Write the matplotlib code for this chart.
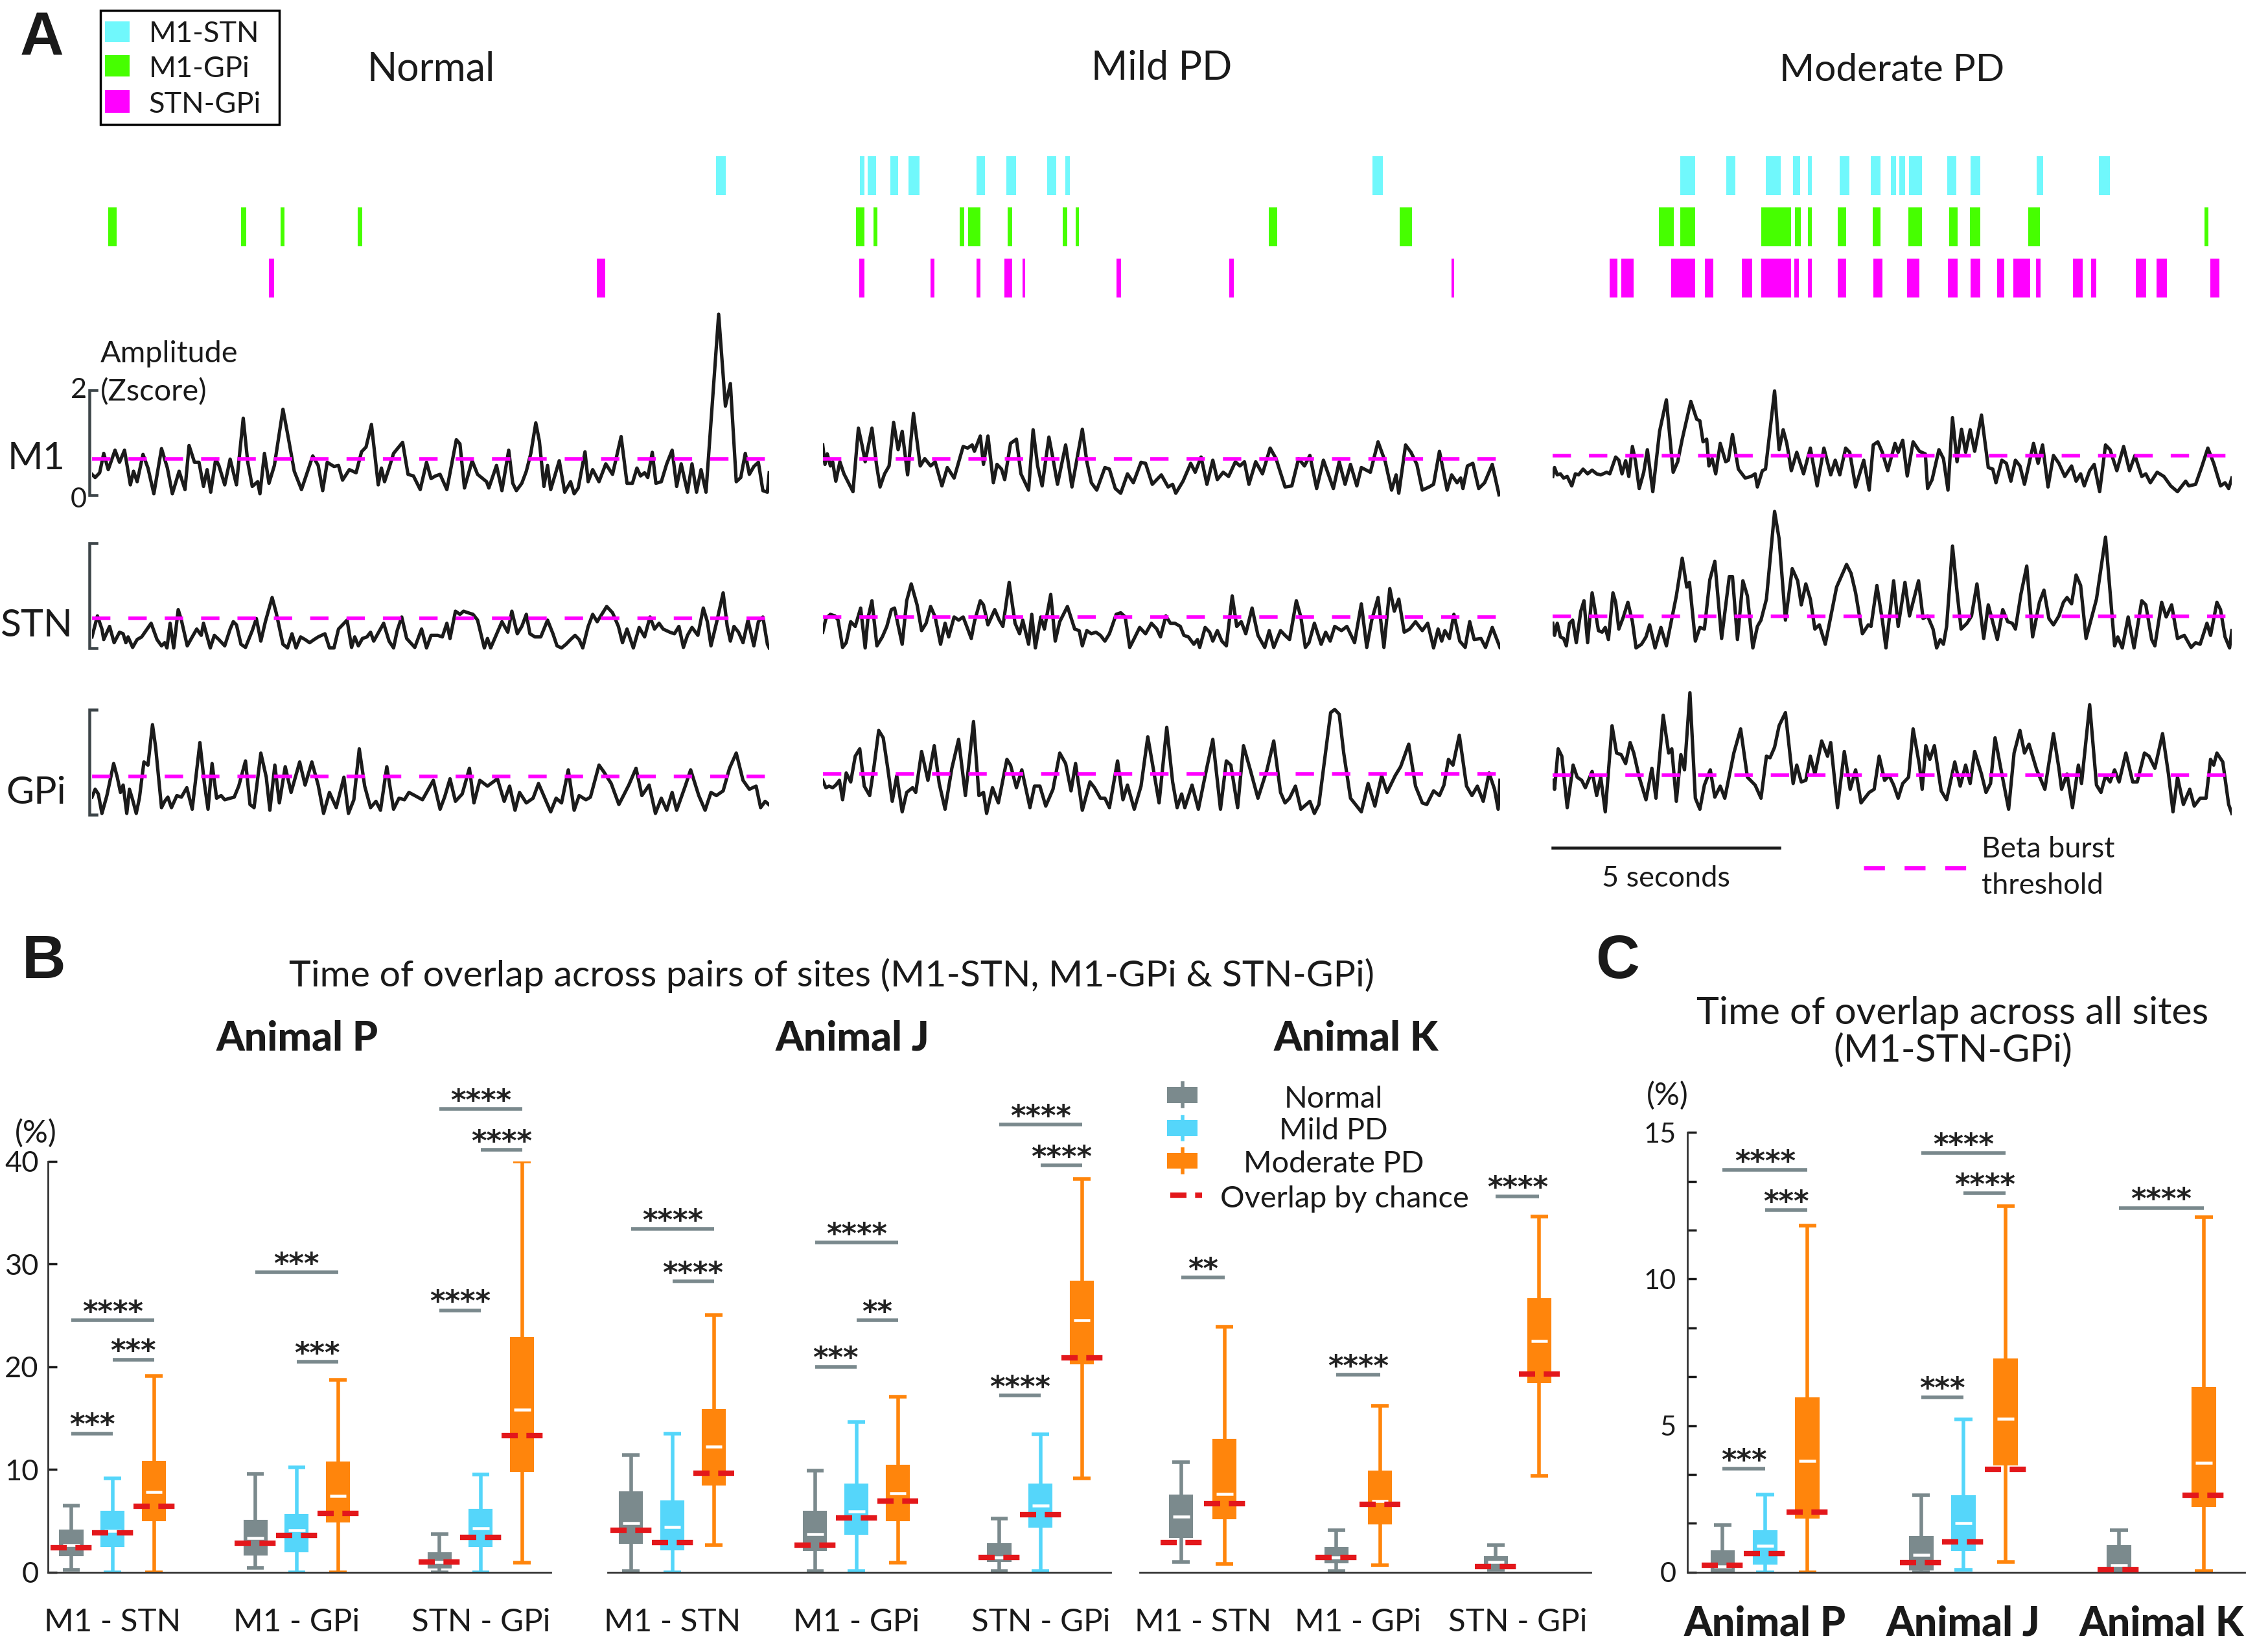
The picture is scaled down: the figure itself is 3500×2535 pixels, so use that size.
import numpy as np
import matplotlib
matplotlib.use('Agg')
import matplotlib.pyplot as plt
from matplotlib.patches import Rectangle

plt.rcParams['font.family'] = ['Lato', 'DejaVu Sans']

# ---------------------------------------------------------------- data
T_WINDOW = 15.0                      # seconds shown for each condition
conditions = ['Normal', 'Mild PD', 'Moderate PD']
site_names = ['M1', 'STN', 'GPi']
pair_names = ['M1-STN', 'M1-GPi', 'STN-GPi']

# overlapping beta bursts, (start, end) in seconds
normal_m1_stn = [(13.82, 14.04)]
normal_m1_gpi = [(0.36, 0.55), (3.30, 3.41), (4.18, 4.26), (5.89, 5.98)]
normal_stn_gpi = [(3.92, 4.04), (11.18, 11.37)]
mild_m1_stn = [(0.82, 0.93), (1.00, 1.18), (1.50, 1.67), (1.90, 2.15), (3.40, 3.59),
               (4.07, 4.28), (4.97, 5.17), (5.37, 5.47), (12.18, 12.40)]
mild_m1_gpi = [(0.74, 0.93), (1.12, 1.21), (3.04, 3.14), (3.22, 3.50), (4.09, 4.20),
               (5.32, 5.42), (5.60, 5.68), (9.88, 10.07), (12.78, 13.05)]
mild_stn_gpi = [(0.81, 0.93), (2.39, 2.48), (3.40, 3.50), (4.02, 4.19), (4.43, 4.49),
                (6.50, 6.61), (9.00, 9.11), (13.93, 13.98)]
moderate_m1_stn = [(2.82, 3.15), (3.84, 4.03), (4.70, 5.03), (5.31, 5.47), (5.64, 5.72),
                   (6.34, 6.55), (7.03, 7.24), (7.47, 7.59), (7.65, 7.79), (7.87, 8.16),
                   (8.72, 8.91), (9.23, 9.45), (10.69, 10.83), (12.07, 12.30)]
moderate_m1_gpi = [(2.34, 2.68), (2.81, 3.15), (4.61, 5.26), (5.35, 5.48), (5.63, 5.72),
                   (6.30, 6.48), (7.07, 7.24), (7.85, 8.16), (8.75, 8.94), (9.22, 9.45),
                   (10.51, 10.76), (14.39, 14.48)]
moderate_stn_gpi = [(1.25, 1.43), (1.52, 1.79), (2.62, 3.15), (3.36, 3.55), (4.17, 4.41),
                    (4.61, 5.26), (5.34, 5.43), (5.63, 5.72), (6.30, 6.48), (7.08, 7.28),
                    (7.83, 8.10), (8.73, 8.94), (9.23, 9.45), (9.82, 9.97), (10.17, 10.54),
                    (10.68, 10.77), (11.49, 11.71), (11.89, 12.00), (12.88, 13.11),
                    (13.34, 13.57), (14.52, 14.73)]

# beta amplitude envelopes (time s, z-score) and burst thresholds (M1, STN, GPi)
normal_m1 = [0.00,0.40, 0.07,0.34, 0.17,0.43, 0.26,0.80, 0.36,0.49, 0.51,0.86, 0.61,0.63, 0.72,0.86, 0.85,0.20, 0.92,0.46, 1.00,0.26, 1.13,0.78, 1.24,0.52, 1.37,0.03, 1.54,0.89, 1.67,0.52, 1.78,0.03, 1.93,0.46, 2.06,0.11, 2.15,0.95, 2.27,0.63, 2.37,0.63, 2.47,0.17, 2.55,0.49, 2.63,0.06, 2.74,0.69, 2.81,0.57, 2.94,0.20, 3.06,0.69, 3.20,0.20, 3.35,1.47, 3.45,0.63, 3.55,0.17, 3.67,0.26, 3.72,0.03, 3.82,0.80, 3.92,0.23, 4.04,0.57, 4.23,1.64, 4.35,1.09, 4.48,0.46, 4.64,0.11, 4.89,0.75, 5.01,0.57, 5.11,0.09, 5.21,0.63, 5.36,0.55, 5.46,0.57, 5.55,0.29, 5.70,0.49, 5.85,0.43, 5.97,0.83, 6.07,0.92, 6.19,1.35, 6.34,0.20, 6.41,0.52, 6.48,0.26, 6.58,0.52, 6.68,0.80, 6.88,1.01, 7.00,0.40, 7.12,0.37, 7.27,0.11, 7.41,0.63, 7.51,0.32, 7.61,0.37, 7.71,0.40, 7.86,0.11, 8.07,1.06, 8.15,0.98, 8.25,0.14, 8.42,0.66, 8.54,0.40, 8.74,0.26, 8.79,0.14, 8.96,0.57, 9.08,0.09, 9.23,0.86, 9.32,0.23, 9.40,0.09, 9.52,0.23, 9.62,0.46, 9.72,0.80, 9.83,1.38, 9.91,1.03, 10.01,0.17, 10.09,0.57, 10.16,0.11, 10.35,0.66, 10.47,0.06, 10.60,0.26, 10.68,0.03, 10.77,0.14, 10.92,0.83, 10.99,0.26, 11.09,0.49, 11.23,0.26, 11.38,0.60, 11.53,0.40, 11.72,1.12, 11.85,0.23, 11.97,0.23, 12.07,0.52, 12.15,0.37, 12.24,0.43, 12.31,0.34, 12.41,0.82, 12.49,0.23, 12.61,0.26, 12.73,0.60, 12.85,0.86, 12.95,0.17, 13.05,0.60, 13.19,0.06, 13.29,0.60, 13.39,0.06, 13.49,0.49, 13.60,0.06, 13.88,3.45, 14.03,1.70, 14.14,2.13, 14.27,0.26, 14.37,0.34, 14.47,0.80, 14.56,0.40, 14.66,0.55, 14.76,0.63, 14.86,0.09, 14.96,0.06, 15.00,0.43]
normal_stn = [0.00,0.21, 0.12,0.61, 0.22,0.36, 0.26,0.16, 0.39,0.41, 0.49,0.10, 0.61,0.30, 0.69,0.27, 0.75,0.10, 0.80,0.21, 0.90,0.01, 1.00,0.16, 1.10,0.21, 1.31,0.47, 1.44,0.16, 1.54,0.04, 1.61,0.10, 1.66,0.00, 1.73,0.47, 1.81,0.00, 1.91,0.73, 1.98,0.53, 2.11,0.04, 2.22,0.21, 2.32,0.36, 2.42,0.24, 2.47,0.47, 2.62,0.00, 2.71,0.24, 2.81,0.16, 2.94,0.04, 3.06,0.36, 3.13,0.50, 3.20,0.44, 3.30,0.07, 3.40,0.01, 3.55,0.33, 3.64,0.56, 3.74,0.13, 3.84,0.50, 3.99,0.96, 4.08,0.67, 4.23,0.07, 4.33,0.00, 4.43,0.27, 4.52,0.00, 4.62,0.21, 4.72,0.16, 4.82,0.10, 4.92,0.16, 5.01,0.21, 5.16,0.27, 5.26,0.00, 5.36,0.00, 5.46,0.36, 5.65,0.53, 5.75,0.01, 5.82,0.21, 5.90,0.04, 5.99,0.18, 6.09,0.21, 6.17,0.30, 6.24,0.13, 6.37,0.33, 6.46,0.47, 6.58,0.13, 6.68,0.00, 6.76,0.33, 6.86,0.59, 6.97,0.18, 7.15,0.01, 7.30,0.36, 7.41,0.00, 7.51,0.24, 7.66,0.24, 7.76,0.21, 7.86,0.47, 7.93,0.18, 8.05,0.70, 8.15,0.64, 8.23,0.70, 8.33,0.67, 8.44,0.64, 8.54,0.53, 8.69,0.00, 8.76,0.18, 8.83,0.00, 8.98,0.30, 9.08,0.50, 9.21,0.30, 9.30,0.70, 9.42,0.27, 9.52,0.41, 9.62,0.64, 9.70,0.27, 9.81,0.21, 9.94,0.21, 10.09,0.53, 10.21,0.27, 10.30,0.04, 10.40,0.00, 10.50,0.07, 10.60,0.16, 10.70,0.24, 10.79,0.16, 10.87,0.00, 10.99,0.41, 11.09,0.64, 11.19,0.50, 11.40,0.79, 11.53,0.67, 11.66,0.41, 11.75,0.10, 11.85,0.36, 11.99,0.00, 12.12,0.39, 12.24,0.21, 12.36,0.59, 12.46,0.36, 12.56,0.47, 12.65,0.36, 12.80,0.30, 12.90,0.27, 13.00,0.41, 13.10,0.01, 13.19,0.24, 13.29,0.39, 13.42,0.24, 13.54,0.76, 13.63,0.50, 13.71,0.04, 13.83,0.47, 13.98,1.05, 14.07,0.41, 14.14,0.13, 14.22,0.41, 14.32,0.30, 14.42,0.10, 14.53,0.53, 14.66,0.04, 14.76,0.50, 14.86,0.59, 14.96,0.07, 15.00,0.00]
normal_gpi = [0.00,0.34, 0.07,0.49, 0.14,0.40, 0.22,0.03, 0.33,0.37, 0.48,0.98, 0.56,0.72, 0.63,0.43, 0.69,0.57, 0.77,0.03, 0.83,0.49, 0.90,0.29, 0.98,0.03, 1.05,0.32, 1.15,1.01, 1.24,0.95, 1.34,1.72, 1.41,1.29, 1.54,0.14, 1.61,0.26, 1.68,0.34, 1.76,0.14, 1.88,0.37, 1.98,0.34, 2.10,0.52, 2.22,0.11, 2.39,1.38, 2.49,0.60, 2.57,0.11, 2.66,0.98, 2.76,0.32, 2.86,0.37, 2.94,0.29, 3.06,0.32, 3.15,0.34, 3.25,0.55, 3.40,1.03, 3.50,0.20, 3.59,0.14, 3.74,1.18, 3.86,0.72, 3.94,0.09, 4.05,0.95, 4.15,0.23, 4.28,0.92, 4.41,0.43, 4.60,1.01, 4.72,0.57, 4.87,1.01, 5.01,0.57, 5.13,0.03, 5.26,0.43, 5.41,0.14, 5.58,0.72, 5.68,0.03, 5.80,0.29, 5.92,1.26, 6.04,0.55, 6.17,0.14, 6.29,0.26, 6.39,0.09, 6.53,0.92, 6.68,0.11, 6.80,0.32, 6.92,0.29, 7.02,0.43, 7.15,0.37, 7.32,0.29, 7.56,0.66, 7.71,0.11, 7.81,0.34, 7.93,0.69, 8.05,0.26, 8.20,0.40, 8.36,0.89, 8.46,0.23, 8.59,0.66, 8.76,0.55, 8.98,0.69, 9.13,0.26, 9.25,0.55, 9.37,0.09, 9.47,0.43, 9.62,0.23, 9.77,0.32, 9.89,0.60, 10.03,0.32, 10.16,0.06, 10.28,0.32, 10.40,0.23, 10.55,0.86, 10.68,0.09, 10.79,0.37, 10.94,0.29, 11.04,0.34, 11.23,0.95, 11.33,0.83, 11.50,0.60, 11.67,0.20, 11.79,0.40, 11.89,0.57, 12.05,0.89, 12.18,0.37, 12.34,0.57, 12.48,0.03, 12.61,0.32, 12.73,0.09, 12.85,0.43, 12.95,0.09, 13.14,0.55, 13.26,0.86, 13.44,0.37, 13.58,0.09, 13.71,0.43, 13.83,0.37, 13.98,0.46, 14.12,0.89, 14.27,1.18, 14.42,0.66, 14.56,0.49, 14.71,0.55, 14.81,0.14, 14.91,0.26, 14.99,0.20]
mild_m1 = [0.00,0.96, 0.05,0.59, 0.10,0.79, 0.17,0.56, 0.22,0.64, 0.29,0.27, 0.38,0.64, 0.47,0.41, 0.57,0.24, 0.67,0.07, 0.79,1.28, 0.87,0.96, 0.94,0.64, 1.09,1.28, 1.19,0.59, 1.27,0.16, 1.37,0.41, 1.47,0.56, 1.57,1.39, 1.67,0.87, 1.76,1.22, 1.88,0.39, 2.01,1.56, 2.16,0.56, 2.26,0.70, 2.39,0.56, 2.49,0.64, 2.64,0.18, 2.76,0.53, 2.91,0.33, 3.11,0.93, 3.21,0.90, 3.31,0.96, 3.36,0.84, 3.49,1.13, 3.56,0.59, 3.66,1.13, 3.78,0.24, 3.86,0.59, 3.96,0.50, 4.03,0.30, 4.16,0.99, 4.29,1.07, 4.39,0.41, 4.56,0.10, 4.66,1.25, 4.76,0.56, 4.86,0.18, 5.01,1.11, 5.10,0.70, 5.20,0.21, 5.38,0.96, 5.52,0.16, 5.75,1.26, 5.85,0.64, 5.95,0.24, 6.07,0.10, 6.25,0.53, 6.35,0.50, 6.48,0.13, 6.60,0.04, 6.75,0.41, 6.88,0.24, 7.05,0.63, 7.15,0.61, 7.30,0.21, 7.50,0.39, 7.65,0.16, 7.75,0.21, 7.82,0.04, 7.98,0.27, 8.15,0.61, 8.25,0.44, 8.38,0.73, 8.51,0.21, 8.64,0.67, 8.74,0.30, 8.87,0.44, 8.99,0.36, 9.14,0.64, 9.24,0.56, 9.34,0.64, 9.44,0.21, 9.59,0.64, 9.74,0.41, 9.91,0.90, 10.04,0.70, 10.24,0.16, 10.39,0.18, 10.54,0.70, 10.67,0.56, 10.79,0.76, 10.94,0.13, 11.09,0.67, 11.31,0.13, 11.44,0.64, 11.57,0.21, 11.69,0.59, 11.83,0.18, 11.93,0.53, 12.13,0.44, 12.30,1.02, 12.46,0.64, 12.60,0.10, 12.70,0.39, 12.76,0.04, 12.91,0.96, 13.03,0.82, 13.16,0.59, 13.28,0.10, 13.43,0.16, 13.53,0.21, 13.66,0.84, 13.83,0.10, 13.93,0.39, 14.05,0.24, 14.13,0.33, 14.18,0.13, 14.28,0.56, 14.40,0.61, 14.53,0.13, 14.66,0.24, 14.83,0.59, 14.98,0.01]
mild_stn = [0.00,0.30, 0.07,0.56, 0.17,0.64, 0.27,0.61, 0.34,0.53, 0.44,0.01, 0.52,0.10, 0.62,0.50, 0.72,0.41, 0.84,0.76, 0.94,0.00, 1.00,0.56, 1.09,0.90, 1.20,0.04, 1.32,0.21, 1.42,0.41, 1.52,0.73, 1.59,0.76, 1.68,0.39, 1.76,0.07, 1.86,0.90, 1.96,1.22, 2.09,0.82, 2.19,0.33, 2.29,0.47, 2.39,0.79, 2.49,0.59, 2.61,0.07, 2.71,0.47, 2.79,0.21, 2.91,0.59, 3.01,0.53, 3.11,0.59, 3.19,0.41, 3.29,0.18, 3.36,0.50, 3.49,0.90, 3.56,0.82, 3.66,0.44, 3.81,0.73, 3.91,0.53, 3.99,0.41, 4.13,1.25, 4.26,0.47, 4.36,0.27, 4.43,0.53, 4.56,0.07, 4.63,0.64, 4.71,0.00, 4.83,0.59, 4.91,0.36, 5.05,1.02, 5.15,0.13, 5.25,0.50, 5.42,0.79, 5.58,0.36, 5.68,0.33, 5.75,0.04, 5.85,0.33, 5.95,0.27, 6.05,0.30, 6.15,0.24, 6.25,0.13, 6.35,0.27, 6.50,0.64, 6.60,0.67, 6.70,0.59, 6.80,0.01, 6.90,0.18, 7.02,0.39, 7.15,0.27, 7.28,0.47, 7.40,0.36, 7.48,0.21, 7.60,0.61, 7.70,0.47, 7.80,0.47, 7.92,0.41, 8.00,0.24, 8.10,0.21, 8.22,0.07, 8.30,0.16, 8.35,0.01, 8.47,0.39, 8.57,0.30, 8.64,0.13, 8.74,0.33, 8.84,0.13, 8.94,0.04, 9.07,0.99, 9.17,0.41, 9.27,0.50, 9.37,0.27, 9.51,0.76, 9.64,0.24, 9.79,0.01, 9.89,0.33, 9.99,0.01, 10.14,0.33, 10.24,0.24, 10.34,0.16, 10.49,0.90, 10.59,0.59, 10.69,0.01, 10.77,0.10, 10.89,0.47, 11.04,0.07, 11.14,0.30, 11.24,0.13, 11.34,0.41, 11.49,0.33, 11.61,0.41, 11.78,0.10, 11.93,0.84, 12.05,0.01, 12.16,0.53, 12.30,0.96, 12.43,0.01, 12.56,1.13, 12.66,0.70, 12.76,0.93, 12.88,0.30, 13.00,0.36, 13.13,0.50, 13.28,0.33, 13.40,0.47, 13.53,0.00, 13.63,0.36, 13.71,0.13, 13.78,0.33, 13.88,0.18, 13.98,0.64, 14.11,0.13, 14.23,0.01, 14.33,0.50, 14.43,0.16, 14.58,0.18, 14.68,0.01, 14.83,0.39, 15.00,0.01]
mild_gpi = [0.00,0.66, 0.07,0.52, 0.14,0.55, 0.22,0.52, 0.29,0.57, 0.37,0.66, 0.44,0.29, 0.52,0.80, 0.62,0.63, 0.72,1.12, 0.82,1.26, 0.92,0.55, 1.04,0.37, 1.14,0.95, 1.24,1.61, 1.34,1.47, 1.44,0.89, 1.54,0.26, 1.64,0.75, 1.76,0.06, 1.86,0.43, 1.99,0.52, 2.06,0.43, 2.19,1.21, 2.33,0.66, 2.47,1.32, 2.58,0.60, 2.71,0.11, 2.86,0.89, 3.01,1.44, 3.16,0.37, 3.34,1.78, 3.46,0.37, 3.56,0.43, 3.63,0.03, 3.76,0.52, 3.89,0.23, 4.08,1.06, 4.16,0.95, 4.29,0.52, 4.41,0.86, 4.59,0.14, 4.69,0.55, 4.81,0.55, 4.94,0.17, 5.10,0.49, 5.25,1.18, 5.38,0.98, 5.50,0.46, 5.60,0.98, 5.75,0.09, 5.92,0.63, 6.02,0.52, 6.15,0.32, 6.25,0.32, 6.35,0.14, 6.53,1.03, 6.65,0.29, 6.75,0.57, 6.90,0.11, 7.05,0.55, 7.20,1.49, 7.32,0.89, 7.45,0.23, 7.62,1.67, 7.75,0.63, 7.85,0.14, 7.95,0.40, 8.02,0.14, 8.18,0.57, 8.32,0.11, 8.49,0.83, 8.64,1.44, 8.81,0.11, 8.94,1.03, 9.04,0.95, 9.19,0.14, 9.32,1.32, 9.47,0.86, 9.64,0.32, 9.84,0.86, 9.99,1.41, 10.14,0.43, 10.24,0.23, 10.34,0.32, 10.47,0.55, 10.59,0.11, 10.79,0.26, 10.89,0.03, 10.99,0.20, 11.25,1.95, 11.34,2.01, 11.44,1.92, 11.54,1.18, 11.69,0.32, 11.93,0.06, 12.08,0.60, 12.23,0.17, 12.38,0.75, 12.50,0.43, 12.68,0.75, 12.80,0.92, 12.98,1.35, 13.13,0.55, 13.28,0.23, 13.38,0.20, 13.53,0.46, 13.66,0.37, 13.76,0.57, 13.86,1.06, 13.96,0.95, 14.10,1.52, 14.26,0.55, 14.38,0.37, 14.50,0.55, 14.63,0.26, 14.76,0.80, 14.88,0.49, 14.96,0.11, 15.00,0.66]
moderate_m1 = [0.00,0.36, 0.04,0.53, 0.10,0.39, 0.17,0.41, 0.24,0.33, 0.32,0.36, 0.42,0.18, 0.50,0.41, 0.57,0.39, 0.67,0.50, 0.77,0.41, 0.87,0.48, 0.97,0.41, 1.06,0.39, 1.19,0.44, 1.26,0.41, 1.39,0.73, 1.46,0.67, 1.53,0.41, 1.61,0.66, 1.68,0.36, 1.76,0.93, 1.83,0.64, 1.91,0.13, 2.01,0.44, 2.09,0.87, 2.21,0.07, 2.36,1.22, 2.51,1.82, 2.66,0.44, 2.76,0.64, 2.86,1.07, 3.05,1.79, 3.18,1.45, 3.25,1.42, 3.32,1.02, 3.40,1.07, 3.45,0.56, 3.52,0.70, 3.60,0.41, 3.70,0.99, 3.82,0.64, 3.88,0.67, 3.97,1.16, 4.10,0.50, 4.25,0.33, 4.38,0.36, 4.47,0.41, 4.52,0.16, 4.63,0.47, 4.70,0.50, 4.90,1.99, 5.00,0.87, 5.09,1.25, 5.17,0.99, 5.27,0.47, 5.39,0.82, 5.54,0.41, 5.69,0.90, 5.84,0.18, 5.99,0.90, 6.14,0.39, 6.24,0.67, 6.34,0.39, 6.47,0.90, 6.56,0.82, 6.69,0.16, 6.87,0.67, 6.99,0.10, 7.08,0.96, 7.18,1.02, 7.28,0.82, 7.40,0.47, 7.56,0.99, 7.63,0.82, 7.73,1.05, 7.83,0.37, 7.96,1.02, 8.10,0.84, 8.23,0.79, 8.28,0.13, 8.38,0.30, 8.53,0.87, 8.63,0.70, 8.73,0.10, 8.83,1.48, 8.93,0.64, 9.03,1.26, 9.12,0.82, 9.22,1.25, 9.32,0.84, 9.47,1.53, 9.62,0.53, 9.72,0.50, 9.79,0.24, 9.92,0.67, 10.02,0.61, 10.12,0.27, 10.22,0.67, 10.32,0.56, 10.42,0.21, 10.62,0.99, 10.72,0.61, 10.82,0.96, 10.94,0.16, 11.06,0.76, 11.18,0.61, 11.31,0.36, 11.46,0.56, 11.56,0.27, 11.66,0.41, 11.74,0.18, 11.86,0.47, 11.96,0.59, 12.08,0.07, 12.21,0.96, 12.31,0.87, 12.46,0.47, 12.61,0.93, 12.74,0.47, 12.86,0.76, 13.01,0.36, 13.10,0.41, 13.20,0.24, 13.35,0.44, 13.50,0.36, 13.65,0.18, 13.80,0.07, 13.98,0.27, 14.05,0.18, 14.20,0.21, 14.33,0.53, 14.47,0.90, 14.60,0.61, 14.75,0.18, 14.85,0.24, 14.93,0.13, 15.00,0.33]
moderate_stn = [0.00,0.47, 0.04,0.24, 0.10,0.47, 0.17,0.21, 0.24,0.18, 0.30,0.04, 0.37,0.47, 0.44,0.53, 0.52,0.10, 0.62,0.70, 0.69,0.90, 0.77,0.10, 0.87,1.05, 0.95,0.64, 1.01,0.33, 1.09,0.30, 1.16,0.39, 1.23,0.16, 1.33,1.05, 1.39,0.87, 1.46,0.36, 1.56,0.59, 1.66,0.87, 1.76,0.50, 1.84,0.00, 1.96,0.07, 2.06,0.21, 2.14,0.44, 2.26,0.00, 2.39,0.39, 2.51,0.04, 2.61,0.47, 2.73,0.99, 2.86,1.71, 2.96,1.16, 3.02,1.25, 3.15,0.13, 3.25,0.39, 3.35,0.36, 3.47,1.30, 3.58,1.65, 3.73,0.18, 3.90,1.36, 3.97,1.36, 4.08,0.16, 4.20,1.28, 4.30,0.99, 4.42,0.00, 4.52,0.41, 4.60,0.53, 4.72,0.93, 4.90,2.60, 5.00,2.08, 5.14,0.53, 5.29,1.51, 5.41,1.28, 5.49,0.82, 5.59,1.22, 5.69,0.93, 5.79,0.36, 5.89,0.44, 6.02,0.07, 6.14,0.59, 6.27,1.16, 6.49,1.59, 6.59,1.42, 6.69,1.05, 6.84,0.27, 6.97,0.44, 7.03,0.41, 7.16,1.19, 7.28,0.53, 7.36,0.00, 7.53,1.28, 7.63,0.41, 7.78,1.25, 7.88,0.61, 8.08,1.28, 8.18,0.56, 8.28,0.61, 8.40,0.36, 8.48,0.00, 8.56,0.16, 8.63,0.07, 8.70,0.41, 8.83,1.94, 8.93,1.07, 9.02,0.36, 9.15,0.47, 9.25,0.61, 9.37,1.22, 9.52,0.18, 9.62,0.82, 9.82,0.16, 9.94,0.73, 10.05,0.50, 10.15,0.47, 10.22,0.36, 10.34,1.02, 10.47,1.56, 10.60,0.21, 10.75,0.87, 10.85,1.10, 10.96,0.56, 11.06,0.44, 11.18,0.61, 11.28,0.87, 11.36,0.96, 11.46,0.84, 11.56,1.39, 11.66,1.19, 11.78,0.18, 12.01,0.93, 12.21,2.11, 12.41,0.04, 12.48,0.21, 12.58,0.00, 12.71,0.59, 12.84,0.00, 13.01,0.90, 13.10,0.82, 13.23,0.16, 13.30,0.04, 13.45,0.87, 13.55,0.59, 13.67,0.82, 13.80,0.18, 13.95,0.24, 14.10,0.01, 14.20,0.10, 14.30,0.07, 14.45,0.47, 14.53,0.24, 14.67,0.87, 14.75,0.73, 14.85,0.21, 14.95,0.00, 15.00,0.33]
moderate_gpi = [0.00,0.66, 0.04,0.49, 0.12,1.26, 0.20,1.12, 0.32,0.14, 0.45,0.95, 0.54,0.72, 0.64,0.66, 0.72,0.52, 0.87,0.83, 0.97,0.37, 1.06,0.72, 1.16,0.06, 1.31,1.70, 1.41,1.18, 1.51,1.15, 1.61,0.98, 1.71,1.38, 1.79,1.18, 1.91,0.72, 2.06,0.29, 2.19,0.89, 2.28,0.32, 2.44,1.90, 2.56,1.18, 2.63,1.26, 2.73,0.26, 2.83,1.15, 2.91,0.86, 3.03,2.33, 3.15,0.32, 3.25,0.11, 3.35,0.57, 3.48,0.86, 3.58,0.34, 3.70,0.55, 3.80,0.32, 4.00,1.18, 4.15,1.64, 4.30,0.72, 4.47,0.57, 4.60,0.32, 4.72,1.12, 4.80,1.09, 4.90,1.29, 5.00,1.70, 5.14,1.95, 5.31,0.60, 5.39,0.95, 5.49,0.63, 5.59,0.66, 5.69,1.12, 5.79,0.78, 5.94,1.41, 6.07,1.12, 6.14,1.38, 6.29,0.14, 6.44,1.21, 6.57,0.49, 6.69,0.86, 6.81,0.23, 6.99,0.43, 7.10,0.49, 7.21,1.12, 7.33,0.66, 7.43,0.75, 7.53,0.57, 7.63,0.32, 7.73,0.60, 7.86,0.72, 7.96,1.64, 8.10,0.95, 8.16,0.49, 8.24,1.32, 8.33,1.06, 8.43,1.32, 8.58,0.46, 8.70,0.29, 8.88,1.01, 9.00,0.55, 9.12,0.95, 9.22,0.60, 9.32,1.21, 9.47,0.78, 9.57,0.43, 9.67,0.60, 9.77,1.47, 9.92,0.78, 10.07,0.11, 10.19,1.18, 10.32,1.61, 10.42,1.18, 10.52,1.35, 10.69,0.86, 10.87,0.49, 11.06,1.55, 11.18,0.89, 11.24,0.49, 11.36,0.78, 11.48,0.14, 11.61,0.95, 11.68,0.60, 11.86,2.10, 12.01,0.57, 12.11,0.43, 12.21,0.75, 12.31,0.63, 12.41,0.86, 12.51,0.63, 12.66,1.18, 12.81,0.63, 12.91,0.63, 13.07,1.18, 13.17,1.12, 13.30,0.89, 13.47,1.55, 13.60,0.78, 13.70,0.06, 13.80,0.72, 13.93,0.20, 14.07,0.49, 14.17,0.17, 14.30,0.32, 14.43,0.32, 14.53,1.06, 14.60,0.95, 14.67,1.18, 14.80,1.01, 14.93,0.20, 15.00,0.03]
threshold_normal = [0.70, 0.57, 0.73]
threshold_mild = [0.70, 0.59, 0.78]
threshold_moderate = [0.76, 0.60, 0.76]

# panel B boxes (%): columns = whisker low, q1, median, q3, whisker high, overlap by chance
# order: M1-STN (Normal, Mild, Moderate), M1-GPi (...), STN-GPi (...)
boxes_p = np.array([
    [0.2, 1.6, 2.65, 4.1, 6.5, 2.4], [0.0, 2.5, 4.0, 5.9, 9.1, 3.8], [0.0, 5.0, 7.8, 10.8, 19.1, 6.4],
    [0.4, 1.7, 3.3, 5.0, 9.6, 2.8], [0.0, 2.0, 4.1, 5.6, 10.2, 3.6], [0.0, 4.9, 7.45, 10.7, 18.7, 5.7],
    [0.0, 0.4, 1.0, 1.9, 3.7, 1.0], [0.0, 2.5, 4.3, 6.1, 9.5, 3.4], [0.9, 9.8, 15.8, 22.8, 40.0, 13.3]])
boxes_j = np.array([
    [0.1, 2.8, 4.8, 7.8, 11.4, 4.1], [0.0, 2.2, 4.4, 6.9, 13.5, 2.9], [2.65, 8.5, 12.2, 15.8, 25.05, 9.65],
    [0.1, 2.1, 3.7, 5.9, 9.9, 2.65], [0.1, 3.7, 5.9, 8.55, 14.6, 5.3], [0.9, 5.0, 7.7, 10.4, 17.1, 6.9],
    [0.1, 1.05, 1.4, 2.75, 5.2, 1.4], [0.1, 4.4, 6.5, 8.55, 13.4, 5.6], [9.1, 20.3, 24.5, 28.3, 38.3, 20.9]])
# animal K: no mild PD recordings
boxes_k = np.array([
    [1.0, 3.4, 5.4, 7.5, 10.7, 2.9], [0.8, 5.2, 7.6, 12.9, 23.9, 6.7],
    [0.1, 0.9, 1.4, 2.4, 4.1, 1.4], [0.7, 4.7, 6.9, 9.8, 16.2, 6.6],
    [0.2, 0.45, 1.0, 1.5, 2.6, 0.55], [9.4, 18.5, 22.5, 26.6, 34.6, 19.3]])
# panel C: P (N, Mild, Mod), J (N, Mild, Mod), K (N, Mod)
boxes_c = np.array([
    [0.0, 0.0, 0.2, 0.72, 1.6, 0.24], [0.0, 0.29, 0.91, 1.41, 2.65, 0.63], [0.0, 1.84, 3.8, 5.94, 11.82, 2.05],
    [0.0, 0.08, 0.59, 1.2, 2.62, 0.32], [0.08, 0.75, 1.67, 2.6, 5.21, 1.03], [0.35, 3.66, 5.23, 7.27, 12.48, 3.5],
    [0.0, 0.0, 0.24, 0.91, 1.44, 0.08], [0.03, 2.25, 3.72, 6.3, 12.11, 2.63]])

# significance brackets: (box a, box b, height %, stars)
sig_p = [(0, 1, 13.5, '***'), (0, 2, 24.5, '****'), (1, 2, 20.7, '***'), (3, 5, 29.2, '***'),
         (4, 5, 20.5, '***'), (6, 7, 25.5, '****'), (6, 8, 45.1, '****'), (7, 8, 41.1, '****')]
sig_j = [(0, 2, 33.4, '****'), (1, 2, 28.3, '****'), (3, 4, 20.0, '***'), (3, 5, 32.1, '****'),
         (4, 5, 24.5, '**'), (6, 7, 17.2, '****'), (6, 8, 43.6, '****'), (7, 8, 39.6, '****')]
sig_k = [(0, 1, 28.7, '**'), (2, 3, 19.2, '****'), (4, 5, 36.6, '****')]
sig_c = [(0, 1, 3.53, '***'), (0, 2, 13.72, '****'), (1, 2, 12.35, '***'), (3, 4, 5.97, '***'),
         (3, 5, 14.3, '****'), (4, 5, 12.93, '****'), (6, 7, 12.43, '****')]

# ---------------------------------------------------------------- style
GRAY, CYAN, ORANGE = '#7b8a8d', '#55d6fa', '#ff850c'
RED = '#e3171b'
MAGENTA = '#ff00ff'
RASTER = ['#70f8fc', '#46ff00', '#ff00ff']
SIGCOL = '#7a898d'
TXT = '#1a1a1a'

W, H = 1568, 1136   # layout grid (reference at reduced size)


def rect(x0, y0, x1, y1):
    return [x0 / W, 1 - y1 / H, (x1 - x0) / W, (y1 - y0) / H]


fig = plt.figure(figsize=(14, 10.14), dpi=250)
ov = fig.add_axes([0, 0, 1, 1])
ov.set_xlim(0, W)
ov.set_ylim(H, 0)
ov.axis('off')


def label(x, y, s, size, ha='center', weight='normal', family=None, **kw):
    ov.text(x, y, s, fontsize=size, ha=ha, va='baseline', fontweight=weight,
            color=TXT, family=family if family else ['Lato', 'DejaVu Sans'], **kw)


# ---------------------------------------------------------------- panel A
col_x = [(63.6, 531.8), (568.8, 1037.0), (1073.5, 1543.0)]
row_zero = [342.5, 448.0, 563.5]
UNIT = 36.3
traces = [[normal_m1, normal_stn, normal_gpi],
          [mild_m1, mild_stn, mild_gpi],
          [moderate_m1, moderate_stn, moderate_gpi]]
thresholds = [threshold_normal, threshold_mild, threshold_moderate]
bursts = [[normal_m1_stn, normal_m1_gpi, normal_stn_gpi],
          [mild_m1_stn, mild_m1_gpi, mild_stn_gpi],
          [moderate_m1_stn, moderate_m1_gpi, moderate_stn_gpi]]

for c, (x0, x1) in enumerate(col_x):
    ax = fig.add_axes(rect(x0, 103.65, x1, 210.05))
    ax.set_xlim(0, T_WINDOW)
    ax.set_ylim(2.5, -0.5)
    ax.axis('off')
    for r, iv in enumerate(bursts[c]):
        ax.broken_barh([(s, e - s) for s, e in iv], (r - 0.38, 0.76),
                       facecolors=RASTER[r], edgecolor='none')
    for r in range(3):
        y0 = row_zero[r]
        ax = fig.add_axes(rect(x0, y0 - 3.6 * UNIT, x1, y0 + 0.35 * UNIT))
        ax.set_xlim(0, T_WINDOW)
        ax.set_ylim(-0.35, 3.6)
        ax.axis('off')
        tr = np.array(traces[c][r]).reshape(-1, 2)
        ax.plot(tr[:, 0], tr[:, 1], color='#1b1b1b', lw=1.5, solid_joinstyle='round')
        thr = thresholds[c][r]
        ax.plot([0, T_WINDOW], [thr, thr], color=MAGENTA, lw=1.6, dashes=(5.1, 5.0))
        if c == 0:
            ax.plot([0.1, -0.06, -0.06, 0.1], [2, 2, 0, 0], color='#3d4549', lw=1.3,
                    clip_on=False, solid_joinstyle='miter')
        if c == 2 and r == 2:
            ax.plot([0, 5], [-0.62, -0.62], color='#1b1b1b', lw=1.3, clip_on=False)

label(28.8, 38.5, 'A', 27, weight='bold', family='Liberation Sans')
ov.add_patch(Rectangle((69.6, 7), 123.4, 79, facecolor='white', edgecolor='black', lw=1.0))
for (yt, yb), name, col, base in zip([(14.6, 29.1), (38.0, 53.0), (62.5, 77.8)], pair_names,
                                     RASTER, [29.1, 53.3, 77.8]):
    ov.add_patch(Rectangle((72.7, yt), 17, yb - yt, facecolor=col, edgecolor='none'))
    label(103, base, name, 13, ha='left')
for x, s, b, fs in zip([298, 803, 1308], conditions, [56, 55, 56], [17.5, 17.5, 16.8]):
    label(x, b, s, fs)
for y, s in zip([324.4, 440, 555.6], site_names):
    label(25, y, s, 17)
label(69.6, 250.7, 'Amplitude', 13.5, ha='left')
label(69.6, 277, '(Zscore)', 13.5, ha='left')
label(54.5, 275, '2', 12.5)
label(54.5, 351, '0', 12.5)
label(1152, 613, '5 seconds', 13)
ov.plot([1288.6, 1359.7], [600, 600], color=MAGENTA, lw=1.9, dashes=(4.9, 4.6))
label(1370, 592.8, 'Beta burst', 13, ha='left')
label(1370, 618, 'threshold', 13, ha='left')


# ---------------------------------------------------------------- panels B and C
def draw_boxes(ax, stats, pos, colors):
    pos = np.asarray(pos, dtype=float)
    bstats = [dict(whislo=s[0], q1=s[1], med=s[2], q3=s[3], whishi=s[4]) for s in stats]
    parts = ax.bxp(bstats, positions=pos, widths=0.55, capwidths=0.42, patch_artist=True,
                   showfliers=False, manage_ticks=False, medianprops=dict(visible=False))
    for i, col in enumerate(colors):
        parts['boxes'][i].set(facecolor=col, edgecolor=col, linewidth=0.6)
        for a in parts['whiskers'][2 * i:2 * i + 2] + parts['caps'][2 * i:2 * i + 2]:
            a.set(color=col, linewidth=1.6, solid_capstyle='butt')
    ax.hlines(stats[:, 2], pos - 0.2, pos + 0.2, colors='white', linewidth=1.3, zorder=4)
    ax.hlines(stats[:, 5], pos - 0.5, pos + 0.5, colors=RED, linewidth=2.4,
              linestyles=(0, (3, 1.6)), zorder=5)


def draw_sig(ax, sig, pos):
    for a, b, y, stars in sig:
        ax.plot([pos[a], pos[b]], [y, y], color=SIGCOL, lw=1.6, clip_on=False,
                solid_capstyle='butt')
        ax.annotate(stars, ((pos[a] + pos[b]) / 2, y), xytext=(0, -0.2),
                    textcoords='offset points', ha='center', va='baseline', fontsize=13,
                    fontweight='bold', color='#222222', annotation_clip=False,
                    family='DejaVu Sans')


def style_axis(ax, yaxis):
    ax.patch.set_visible(False)
    for s in ['top', 'right']:
        ax.spines[s].set_visible(False)
    ax.spines['bottom'].set_color('#333333')
    ax.spines['left'].set_color('#333333')
    ax.spines['left'].set_visible(yaxis)
    ax.tick_params(axis='x', length=0, pad=16, labelsize=14.2, colors=TXT)
    if yaxis:
        ax.tick_params(axis='y', direction='in', length=4, width=1, pad=4,
                       labelsize=13, colors=TXT)
    else:
        ax.set_yticks([])


pos_pj = [1, 2, 3, 5.45, 6.45, 7.45, 9.9, 10.9, 11.9]
pos_k = [1, 2.05, 4.75, 5.8, 8.6, 9.65]
pos_c = [1, 2, 3, 5.68, 6.68, 7.68, 10.35, 12.35]
col3 = [GRAY, CYAN, ORANGE] * 3
col2 = [GRAY, ORANGE] * 3

for x0, x1, xl, stats, sig, pos, cols, yaxis in [
        (33, 381, (0.43, 12.6), boxes_p, sig_p, pos_pj, col3, True),
        (420, 768, (0.43, 12.6), boxes_j, sig_j, pos_pj, col3, False),
        (788, 1100, (0.0, 10.9), boxes_k, sig_k, pos_k, col2, False)]:
    ax = fig.add_axes(rect(x0, 803, x1, 1087))
    ax.set_xlim(*xl)
    ax.set_ylim(0, 40)
    draw_boxes(ax, stats, pos, cols)
    draw_sig(ax, sig, pos)
    style_axis(ax, yaxis)
    if len(pos) == 6:
        mids = [(pos[0] + pos[1]) / 2, (pos[2] + pos[3]) / 2, (pos[4] + pos[5]) / 2]
    else:
        mids = [pos[1], pos[4], pos[7]]
    ax.set_xticks(mids)
    ax.set_xticklabels([p.replace('-', ' - ') for p in pair_names])
    if yaxis:
        ax.set_yticks([0, 10, 20, 30, 40])

axc = fig.add_axes(rect(1166.6, 783, 1552, 1087))
axc.set_xlim(0.167, 13.32)
axc.set_ylim(0, 15)
draw_boxes(axc, boxes_c, pos_c, [GRAY, CYAN, ORANGE, GRAY, CYAN, ORANGE, GRAY, ORANGE])
draw_sig(axc, sig_c, pos_c)
style_axis(axc, True)
axc.tick_params(axis='y', labelsize=12.5, pad=5)
axc.set_yticks(np.linspace(0, 15, 10))
axc.set_yticklabels(['0', '', '', '5', '', '', '10', '', '', '15'])
axc.set_xticks([2, 6.68, 11.35])
axc.set_xticklabels(['Animal P', 'Animal J', 'Animal K'], fontweight='black', fontsize=18)
axc.tick_params(axis='x', pad=14.5)

label(30.4, 676, 'B', 27, weight='bold', family='Liberation Sans')
label(1118.4, 676, 'C', 27, weight='bold', family='Liberation Sans')
label(575, 682, 'Time of overlap across pairs of sites (M1-STN, M1-GPi & STN-GPi)', 16.5)
for x, s in zip([205.5, 589.3, 937.5], ['Animal P', 'Animal J', 'Animal K']):
    label(x, 726, s, 18, weight='black')
label(25, 790, '(%)', 14)
label(1153, 764, '(%)', 14)
label(1350, 708, 'Time of overlap across all sites', 17)
label(1350, 734, '(M1-STN-GPi)', 17)

# legend of panel B
for yc, col, s, b in zip([757, 780, 802.6], [GRAY, CYAN, ORANGE],
                         ['Normal', 'Mild PD', 'Moderate PD'], [765.7, 788, 810.6]):
    ov.add_patch(Rectangle((807, yc - 5.5), 21, 11, facecolor=col, edgecolor='none'))
    ov.plot([817.5, 817.5], [yc - 8, yc + 8], color=col, lw=1.6)
    label(922, b, s, 13.5)
ov.plot([809, 831], [826.5, 826.5], color=RED, lw=2.4, dashes=(3, 1.6))
label(843.6, 835, 'Overlap by chance', 13.5, ha='left')

fig.savefig('out.png', dpi=250)
